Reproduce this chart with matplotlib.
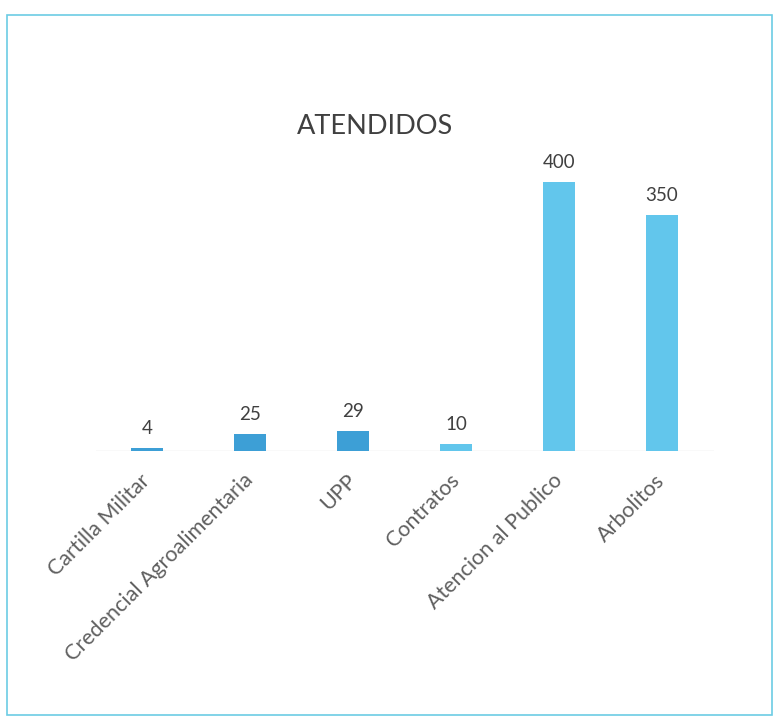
import matplotlib.pyplot as plt
from matplotlib.patches import Rectangle

# Datos del grafico
categorias = ['Cartilla Militar', 'Credencial Agroalimentaria', 'UPP',
              'Contratos', 'Atencion al Publico', 'Arbolitos']
valores = [4, 25, 29, 10, 400, 350]
colores = ['#3d9fd6', '#3d9fd6', '#3d9fd6', '#62c6ec', '#62c6ec', '#62c6ec']

plt.rcParams['font.family'] = ['Lato', 'DejaVu Sans']

fig = plt.figure(figsize=(7.75, 7.2), dpi=100)
W, H = 775, 720

# Marco del grafico
fig.patches.append(Rectangle((7 / W, 5 / H), 765 / W, 700 / H, transform=fig.transFigure,
                             fill=False, edgecolor='#6cccE4', linewidth=1.2))

ax = fig.add_axes([95.5 / W, 269 / H, 618 / W, 311 / H])
x = range(len(categorias))
ax.bar(x, valores, width=0.32, color=colores, zorder=3)
ax.set_xlim(-0.5, 5.5)
ax.set_ylim(0, 462)
ax.axhline(0, color='#e3e3e3', linewidth=1, zorder=1)

for i, v in enumerate(valores):
    ax.annotate(str(v), (i, v), xytext=(0, 8), textcoords='offset points',
                ha='center', va='bottom', fontsize=13.5, color='#404040')

ax.set_xticks(list(x))
ax.set_xticklabels(categorias, rotation=45, ha='right', va='center',
                   rotation_mode='anchor', fontsize=15.5, color='#5f5f5f')
ax.tick_params(axis='x', length=0, pad=19)
ax.set_yticks([])
for s in ax.spines.values():
    s.set_visible(False)

fig.text(375 / W, 1 - 127 / H, 'ATENDIDOS', ha='center', va='center',
         fontsize=19.5, color='#404040')

plt.savefig('out.png', dpi=100)
